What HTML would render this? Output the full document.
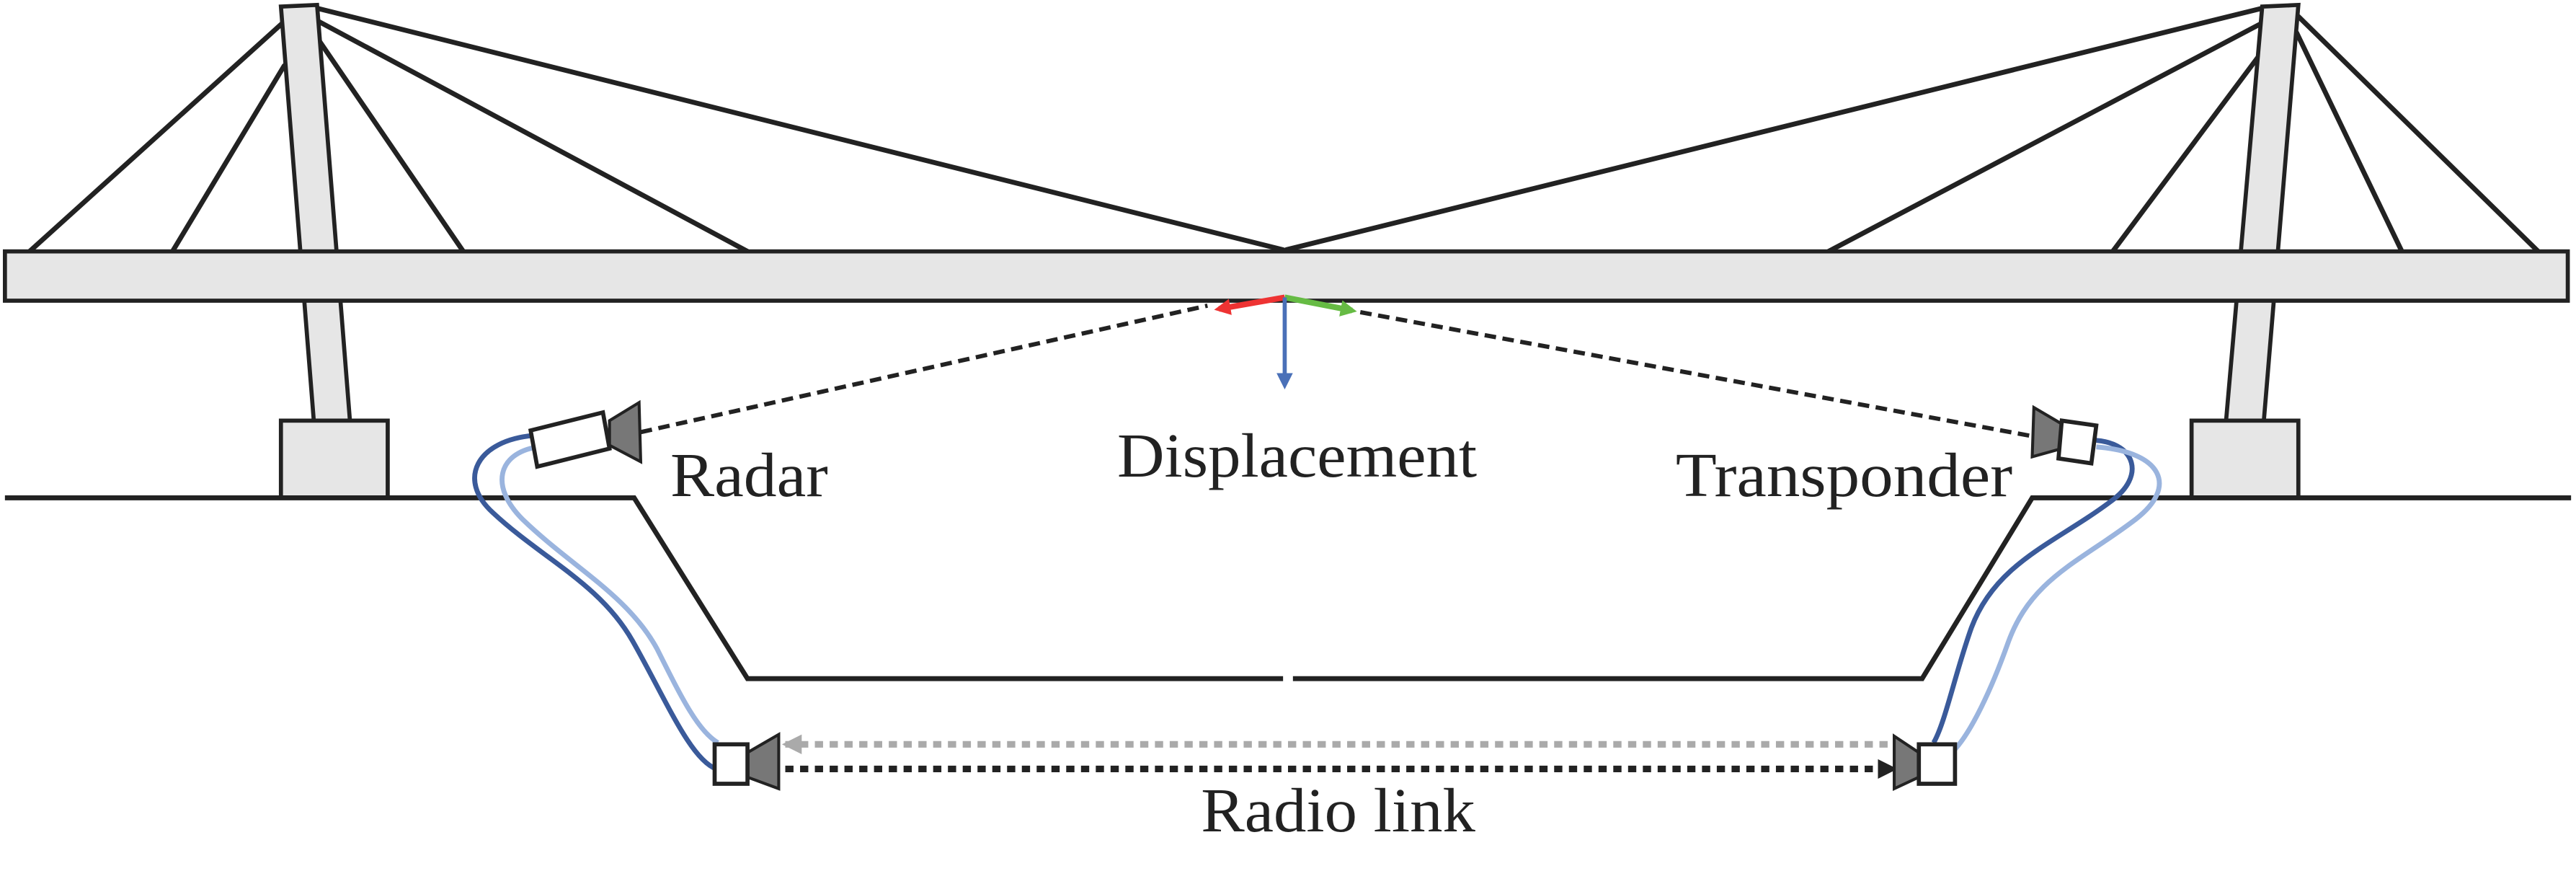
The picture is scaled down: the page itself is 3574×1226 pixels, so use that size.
<!DOCTYPE html>
<html><head><meta charset="utf-8"><style>
html,body{margin:0;padding:0;background:#fff;}
svg{display:block;}
text{font-family:"Liberation Serif",serif;fill:#222;}
</style></head><body>
<svg width="3574" height="1226" viewBox="0 0 1568 538" preserveAspectRatio="none" xmlns="http://www.w3.org/2000/svg">
<defs>
<marker id="ar" markerWidth="10" markerHeight="10" refX="7" refY="5" orient="auto" markerUnits="userSpaceOnUse"><path d="M0,0 L10,5 L0,10 z" fill="#e33"/></marker>
<marker id="ag" markerWidth="10" markerHeight="10" refX="7" refY="5" orient="auto" markerUnits="userSpaceOnUse"><path d="M0,0 L10,5 L0,10 z" fill="#6b4"/></marker>
<marker id="ab" markerWidth="10" markerHeight="10" refX="7" refY="5" orient="auto" markerUnits="userSpaceOnUse"><path d="M0,0 L10,5 L0,10 z" fill="#4a70b8"/></marker>
<marker id="agr" markerWidth="12" markerHeight="12" refX="10" refY="6" orient="auto" markerUnits="userSpaceOnUse"><path d="M0,0 L12,6 L0,12 z" fill="#aaa"/></marker>
<marker id="abk" markerWidth="12" markerHeight="12" refX="10" refY="6" orient="auto" markerUnits="userSpaceOnUse"><path d="M0,0 L12,6 L0,12 z" fill="#222"/></marker>
</defs>
<g stroke="#222" stroke-width="3" fill="none" stroke-linecap="round">
<line x1="172" y1="14" x2="18" y2="153"/>
<line x1="173" y1="40" x2="105" y2="153"/>
<line x1="191" y1="20" x2="282" y2="153"/>
<line x1="192" y1="12" x2="455" y2="153"/>
<line x1="193" y1="5" x2="781" y2="152"/>
<line x1="1377" y1="5" x2="783" y2="152"/>
<line x1="1377" y1="14" x2="1113" y2="153"/>
<line x1="1378" y1="30" x2="1286" y2="153"/>
<line x1="1398" y1="20" x2="1462" y2="153"/>
<line x1="1399" y1="10" x2="1545" y2="153"/>
</g>
<polygon points="171,4 193,3 213,256 191,256" fill="#e6e6e6" stroke="#222" stroke-width="2.5"/>
<polygon points="1377,4 1399,3 1378,256 1355,256" fill="#e6e6e6" stroke="#222" stroke-width="2.5"/>
<rect x="171" y="256" width="65" height="47" fill="#e6e6e6" stroke="#222" stroke-width="2.5"/>
<rect x="1334" y="256" width="65" height="47" fill="#e6e6e6" stroke="#222" stroke-width="2.5"/>
<rect x="3" y="153" width="1560" height="30" fill="#e6e6e6" stroke="#222" stroke-width="2.5"/>
<g stroke="#222" stroke-width="3" fill="none">
<polyline points="3,303 386,303 455,413 781,413"/>
<polyline points="787,413 1170,413 1237,303 1565,303"/>
</g>
<g fill="none" stroke-width="3">
<path d="M325,265 C290,268 278,292 300,312 C330,340 365,355 385,390 C405,425 420,462 436,468" stroke="#3a5a9a"/>
<path d="M327,272 C303,276 298,296 318,316 C348,345 382,362 400,395 C415,425 425,445 437,452" stroke="#9ab4de"/>
<path d="M1276,268 C1300,270 1306,290 1285,305 C1252,330 1215,342 1200,382 C1190,410 1184,440 1177,452" stroke="#3a5a9a"/>
<path d="M1276,272 C1316,275 1326,296 1300,316 C1266,342 1236,352 1222,392 C1212,420 1200,445 1190,456" stroke="#9ab4de"/>
</g>
<line x1="390" y1="263" x2="735" y2="186" stroke="#222" stroke-width="2.6" stroke-dasharray="7,4"/>
<line x1="828" y1="190" x2="1240" y2="266" stroke="#222" stroke-width="2.6" stroke-dasharray="7,4"/>
<line x1="782" y1="181" x2="742" y2="188" stroke="#e33" stroke-width="3.5" marker-end="url(#ar)"/>
<line x1="782" y1="181" x2="823" y2="189" stroke="#6b4" stroke-width="3.5" marker-end="url(#ag)"/>
<line x1="782" y1="181" x2="782" y2="234" stroke="#4a70b8" stroke-width="2.5" marker-end="url(#ab)"/>
<line x1="1158" y1="453" x2="478" y2="453" stroke="#aaa" stroke-width="4" stroke-dasharray="5,4" marker-end="url(#agr)"/>
<line x1="478" y1="468" x2="1153" y2="468" stroke="#222" stroke-width="4" stroke-dasharray="5,4" marker-end="url(#abk)"/>
<polygon points="371,256 389,245 390,281 371,271" fill="#777" stroke="#222" stroke-width="1.8"/>
<polygon points="323,262 367,251 371,273 327,284" fill="#fff" stroke="#222" stroke-width="2.5"/>
<polygon points="1255,258 1238,248 1237,278 1255,273" fill="#777" stroke="#222" stroke-width="1.8"/>
<polygon points="1255,256 1276,259 1273,282 1253,279" fill="#fff" stroke="#222" stroke-width="2.5"/>
<polygon points="455,458 474,447 474,480 455,473" fill="#777" stroke="#222" stroke-width="1.8"/>
<rect x="435" y="453" width="20" height="24" fill="#fff" stroke="#222" stroke-width="2.5"/>
<polygon points="1168,458 1153,448 1153,480 1168,473" fill="#777" stroke="#222" stroke-width="1.8"/>
<rect x="1168" y="453" width="22" height="24" fill="#fff" stroke="#222" stroke-width="2.5"/>
<text x="408" y="302" font-size="38" textLength="96" lengthAdjust="spacingAndGlyphs">Radar</text>
<text x="680" y="290" font-size="38" textLength="219" lengthAdjust="spacingAndGlyphs">Displacement</text>
<text x="1020" y="302" font-size="38" textLength="205" lengthAdjust="spacingAndGlyphs">Transponder</text>
<text x="731" y="506" font-size="38" textLength="167" lengthAdjust="spacingAndGlyphs">Radio link</text>
</svg>
</body></html>
